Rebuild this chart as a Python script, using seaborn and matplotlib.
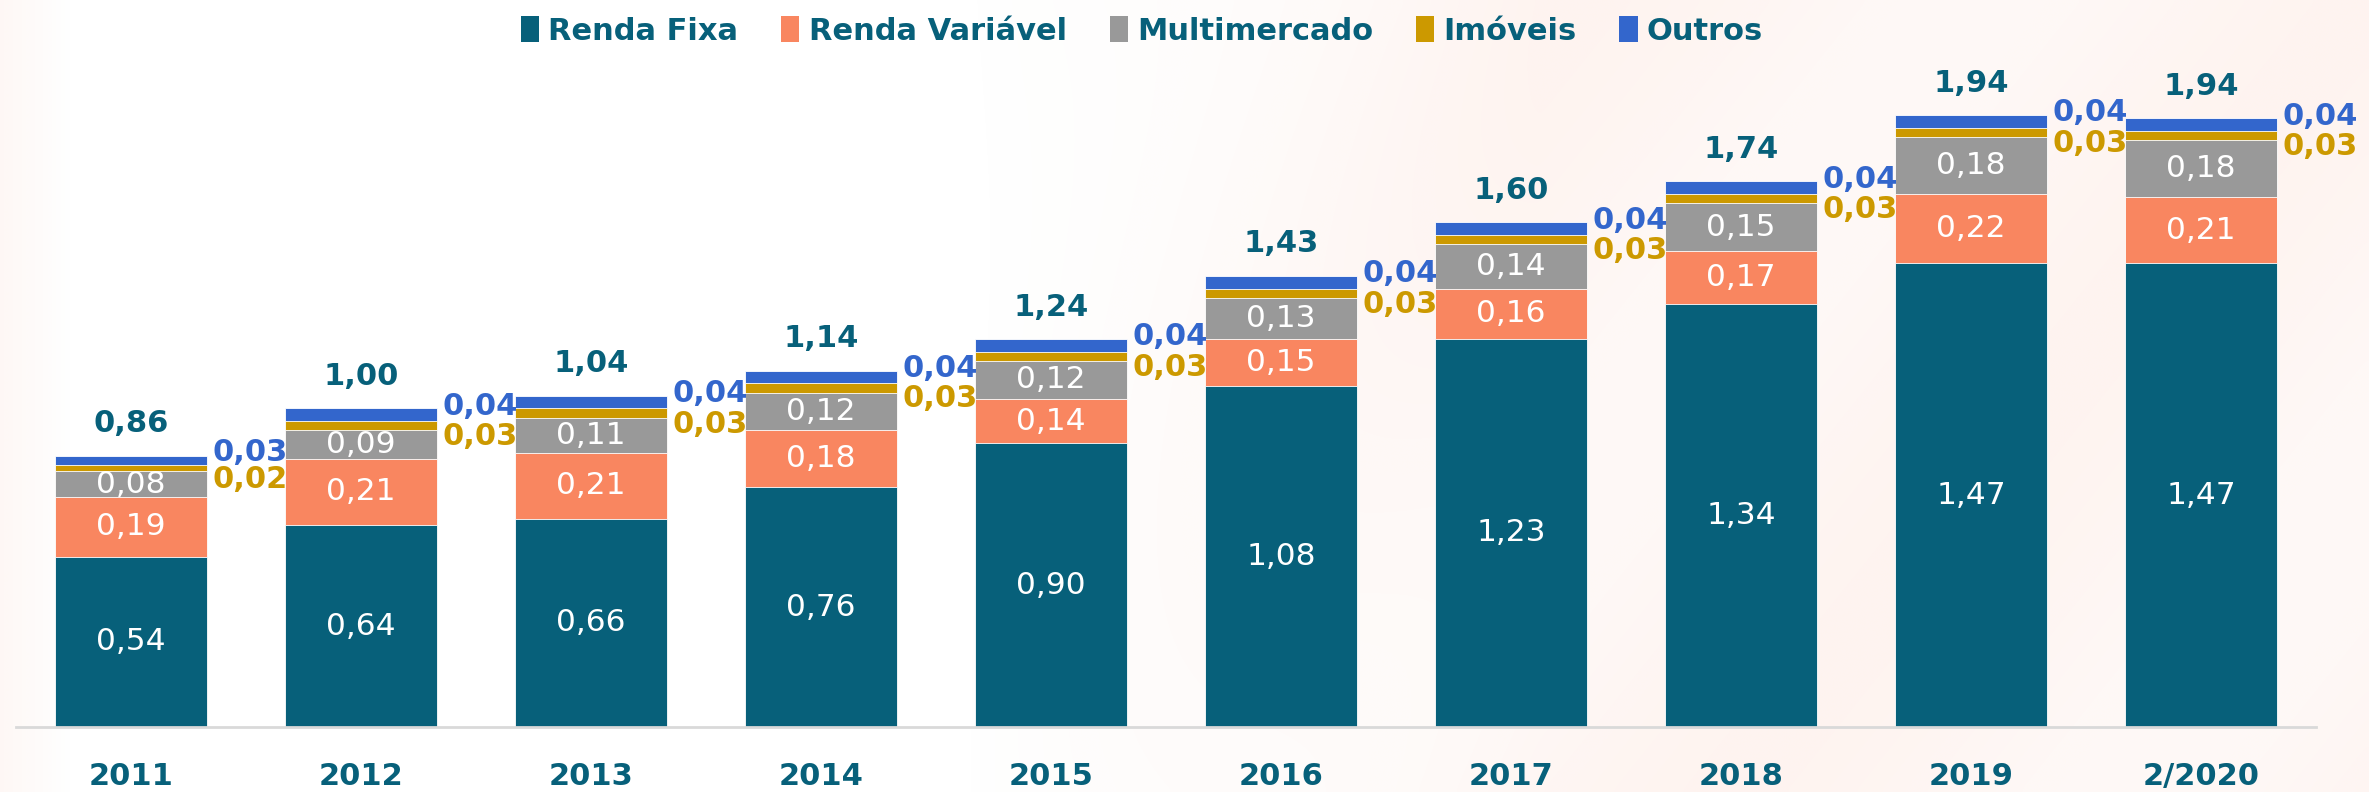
import numpy as np
import pandas as pd
import matplotlib
matplotlib.use("Agg")
import matplotlib.pyplot as plt
from matplotlib.patches import Patch
import seaborn as sns

# Stock of assets by class (R$ trillion)
years = ["2011", "2012", "2013", "2014", "2015", "2016", "2017", "2018", "2019", "2/2020"]
renda_fixa = [0.54, 0.64, 0.66, 0.76, 0.90, 1.08, 1.23, 1.34, 1.47, 1.47]
renda_variavel = [0.19, 0.21, 0.21, 0.18, 0.14, 0.15, 0.16, 0.17, 0.22, 0.21]
multimercado = [0.08, 0.09, 0.11, 0.12, 0.12, 0.13, 0.14, 0.15, 0.18, 0.18]
imoveis = [0.02, 0.03, 0.03, 0.03, 0.03, 0.03, 0.03, 0.03, 0.03, 0.03]
outros = [0.03, 0.04, 0.04, 0.04, 0.04, 0.04, 0.04, 0.04, 0.04, 0.04]
totais = [0.86, 1.00, 1.04, 1.14, 1.24, 1.43, 1.60, 1.74, 1.94, 1.94]

series_names = ["Renda Fixa", "Renda Variável", "Multimercado", "Imóveis", "Outros"]
series_values = [renda_fixa, renda_variavel, multimercado, imoveis, outros]
colors = ["#07607A", "#F98660", "#999999", "#CC9900", "#3366CC"]
teal = "#07607A"

sns.set_theme(style="white")
plt.rcParams["font.family"] = ["DejaVu Sans"]

df = pd.DataFrame({name: vals for name, vals in zip(series_names, series_values)})
df["Ano"] = years
cum = df[series_names].cumsum(axis=1)
bases = cum - df[series_names]

fig = plt.figure(figsize=(23.69, 7.92), dpi=100)
fig.patch.set_facecolor("white")

# faint warm backdrop, strongest toward the right of the slide
bg = fig.add_axes([0, 0, 1, 1], zorder=-1)
gx, gy = np.meshgrid(np.linspace(0, 1, 400), np.linspace(0, 1, 140))
right = np.clip((gx - 0.40) / 0.25, 0, 1)
streak = 0.5 + 0.5 * np.cos(2 * np.pi * (gx * 3.0 + gy * 0.8))
left = np.clip((0.03 - gx) / 0.03, 0, 1) * 0.8
alpha = 0.10 * right * (0.55 + 0.45 * streak) + 0.08 * left
rgba = np.zeros(gx.shape + (4,))
rgba[..., 0] = 0.97
rgba[..., 1] = 0.55
rgba[..., 2] = 0.40
rgba[..., 3] = alpha
bg.imshow(rgba, extent=(0, 1, 0, 1), aspect="auto", interpolation="bicubic")
bg.set_axis_off()

ax = fig.add_axes([16 / 2369, 65 / 792, 2300 / 2369, 694 / 792])
ax.set_facecolor("none")

bar_w = 0.66
# Stack drawn from the top layer down so each cumulative bar shows its own band
for name, color in reversed(list(zip(series_names, colors))):
    sns.barplot(x=df["Ano"], y=cum[name], color=color, saturation=1,
                width=bar_w, ax=ax, edgecolor="white", linewidth=0.6)

ax.set_xlim(-0.5, 9.5)
ax.set_ylim(0, 2.2)
ax.set_xlabel("")
ax.set_ylabel("")
ax.set_yticks([])
for s in ["top", "left", "right"]:
    ax.spines[s].set_visible(False)
ax.spines["bottom"].set_color("#D9D9D9")
ax.spines["bottom"].set_linewidth(2)
ax.tick_params(axis="x", length=0, pad=25)
for lbl in ax.get_xticklabels():
    lbl.set_fontsize(22)
    lbl.set_fontweight("bold")
    lbl.set_color(teal)

def fmt(v):
    return f"{v:.2f}".replace(".", ",")

for i in range(len(years)):
    # values inside the three large bands
    for name in series_names[:3]:
        yc = bases.loc[i, name] + df.loc[i, name] / 2
        ax.text(i, yc, fmt(df.loc[i, name]), ha="center", va="center",
                color="white", fontsize=22.5)
    # total above the bar
    ax.annotate(fmt(totais[i]), (i, cum.loc[i, "Outros"]), xytext=(0, 23),
                textcoords="offset points", ha="center", va="center",
                color=teal, fontsize=22, fontweight="bold")
    # small classes labelled beside the bar
    xr = i + bar_w / 2
    yo = bases.loc[i, "Outros"] + df.loc[i, "Outros"] / 2
    ax.annotate(fmt(df.loc[i, "Outros"]), (xr, yo), xytext=(4, 6),
                textcoords="offset points", ha="left", va="center",
                color=colors[4], fontsize=22, fontweight="bold")
    yi = bases.loc[i, "Imóveis"] + df.loc[i, "Imóveis"] / 2
    ax.annotate(fmt(df.loc[i, "Imóveis"]), (xr, yi), xytext=(4, -8),
                textcoords="offset points", ha="left", va="center",
                color=colors[3], fontsize=22, fontweight="bold")

handles = [Patch(facecolor=c, edgecolor="none", label=n) for n, c in zip(series_names, colors)]
leg = fig.legend(handles=handles, loc="center", bbox_to_anchor=(1142 / 2369, 1 - 31 / 792),
                 ncol=5, frameon=False, handlelength=0.6, handleheight=0.9,
                 handletextpad=0.3, columnspacing=1.4,
                 prop={"size": 22, "weight": "bold"})
for t in leg.get_texts():
    t.set_color(teal)

fig.savefig("out.png", dpi=100, facecolor="white")
